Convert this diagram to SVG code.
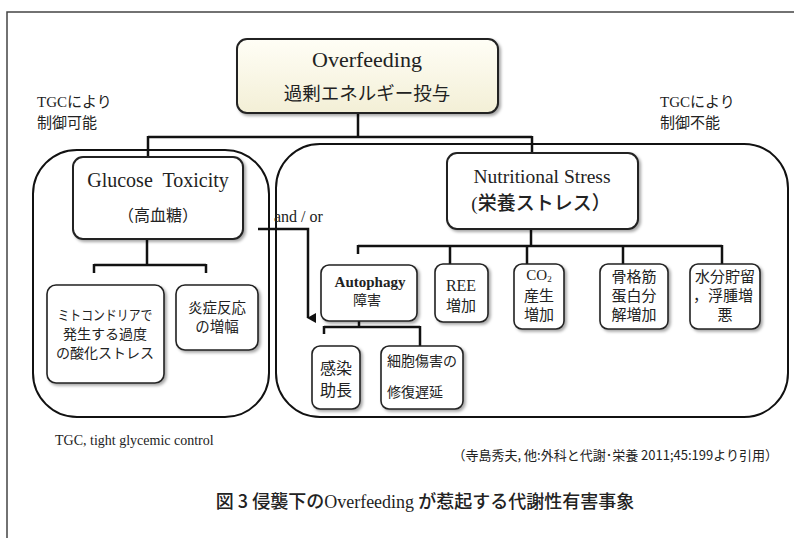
<svg xmlns="http://www.w3.org/2000/svg" width="794" height="538" viewBox="0 0 794 538">
<style>
.en{font-family:"Liberation Serif","Times New Roman","DejaVu Serif",serif;fill:#222}
.jp{font-family:"Noto Sans CJK JP","Liberation Sans",sans-serif;fill:#222}
.big{fill:none;stroke:#111;stroke-width:2}
.box{fill:#fff;stroke:#222;stroke-width:2}
.sbox{fill:#fff;stroke:#222;stroke-width:1.6}
.con{fill:none;stroke:#111;stroke-width:2.5}
</style>
<defs>
<filter id="sh" x="-10%" y="-10%" width="130%" height="130%">
<feDropShadow dx="2" dy="2" stdDeviation="1.5" flood-color="#000" flood-opacity="0.35"/>
</filter>
<linearGradient id="cream" x1="0" y1="0" x2="0" y2="1">
<stop offset="0" stop-color="#fffef6"/>
<stop offset="1" stop-color="#f3efd6"/>
</linearGradient>
<marker id="arr" markerWidth="10" markerHeight="10" refX="5" refY="8" orient="auto" markerUnits="userSpaceOnUse">
<path d="M0,0 L10,0 L5,9 Z" fill="#111"/>
</marker>
</defs>
<rect width="794" height="538" fill="#fff"/>
<path d="M7,538 V12 H794" fill="none" stroke="#444" stroke-width="1.5"/>

<g id="labels">
<text class="jp" x="37" y="107" font-size="15"><tspan class="en" font-size="15">TGC</tspan>により</text>
<text class="jp" x="37" y="128" font-size="15">制御可能</text>
<text class="jp" x="660" y="107" font-size="15"><tspan class="en" font-size="15">TGC</tspan>により</text>
<text class="jp" x="660" y="128" font-size="15">制御不能</text>
</g>

<g id="region-left"><rect class="big" x="33" y="150" width="236" height="267" rx="44"/></g>
<g id="region-right"><rect class="big" x="276" y="144" width="512" height="273" rx="44"/></g>

<g id="connectors">
<path class="con" d="M358,113 V137 M148,137 H532 M148,136 V157 M532,136 V153"/>
<path class="con" d="M147,239 V265 M94,265 H206 M94,264 V273 M206,264 V273"/>
<path class="con" d="M531,229 V246 M358,246 H722 M358,245 V254 M450,245 V264 M527,245 V264 M623,245 V264 M722,245 V264"/>
<path class="con" d="M359,321 V327 M324,327 H420 M324,326 V334 M420,326 V346"/>
<path class="con" d="M258,229 H308 V318" marker-end="url(#arr)" stroke-width="2"/>
<text class="en" x="274" y="222" font-size="16">and / or</text>
</g>

<g id="overfeeding">
<rect x="237" y="39" width="261" height="74" rx="10" fill="url(#cream)" stroke="#222" stroke-width="2" filter="url(#sh)"/>
<text class="en" x="367" y="67" font-size="22" text-anchor="middle">Overfeeding</text>
<text class="jp" x="367" y="100" font-size="18.5" text-anchor="middle">過剰エネルギー投与</text>
</g>

<g id="glucose">
<rect class="box" x="73" y="157" width="170" height="82" rx="10" filter="url(#sh)"/>
<text class="en" x="158" y="187" font-size="20" text-anchor="middle" xml:space="preserve">Glucose  Toxicity</text>
<text class="jp" x="158" y="221" font-size="16" text-anchor="middle">（高血糖）</text>
</g>

<g id="mito">
<rect class="sbox" x="47" y="285" width="117" height="98" rx="9" filter="url(#sh)"/>
<text class="jp" x="105" y="320" font-size="14" text-anchor="middle" textLength="95" lengthAdjust="spacingAndGlyphs">ミトコンドリアで</text>
<text class="jp" x="105" y="339" font-size="14" text-anchor="middle">発生する過度</text>
<text class="jp" x="105" y="358" font-size="14" text-anchor="middle">の酸化ストレス</text>
</g>

<g id="inflam">
<rect class="sbox" x="176" y="285" width="82" height="65" rx="9" filter="url(#sh)"/>
<text class="jp" x="217" y="313" font-size="14.5" text-anchor="middle">炎症反応</text>
<text class="jp" x="217" y="332" font-size="14.5" text-anchor="middle">の増幅</text>
</g>

<g id="nutritional">
<rect class="box" x="447" y="153" width="191" height="76" rx="10" filter="url(#sh)"/>
<text class="en" x="542" y="183" font-size="19.5" text-anchor="middle">Nutritional Stress</text>
<text class="jp" x="541" y="210" font-size="19" font-weight="500" text-anchor="middle"><tspan class="en">(</tspan>栄養ストレス）</text>
</g>

<g id="autophagy">
<rect class="sbox" x="321" y="265" width="96" height="56" rx="8" filter="url(#sh)"/>
<text class="en" x="370" y="287" font-size="15" font-weight="bold" text-anchor="middle" fill="#333">Autophagy</text>
<text class="jp" x="367" y="305" font-size="14" text-anchor="middle">障害</text>
</g>

<g id="ree">
<rect class="sbox" x="435" y="264" width="53" height="58" rx="8" filter="url(#sh)"/>
<text class="en" x="461" y="291" font-size="16" text-anchor="middle">REE</text>
<text class="jp" x="461" y="311" font-size="15" text-anchor="middle">増加</text>
</g>

<g id="co2">
<rect class="sbox" x="514" y="264" width="50" height="65" rx="8" filter="url(#sh)"/>
<text class="en" x="539" y="280" font-size="15" text-anchor="middle">CO<tspan font-size="9" dy="2">2</tspan></text>
<text class="jp" x="539" y="301" font-size="15" text-anchor="middle">産生</text>
<text class="jp" x="539" y="320" font-size="15" text-anchor="middle">増加</text>
</g>

<g id="muscle">
<rect class="sbox" x="600" y="264" width="68" height="65" rx="8" filter="url(#sh)"/>
<text class="jp" x="634" y="282" font-size="15" text-anchor="middle">骨格筋</text>
<text class="jp" x="634" y="301" font-size="15" text-anchor="middle">蛋白分</text>
<text class="jp" x="634" y="320" font-size="15" text-anchor="middle">解増加</text>
</g>

<g id="water">
<rect class="sbox" x="690" y="264" width="70" height="65" rx="8" filter="url(#sh)"/>
<text class="jp" x="725" y="282" font-size="15" text-anchor="middle">水分貯留</text>
<text class="jp" x="723" y="301" font-size="15" text-anchor="middle">，浮腫増</text>
<text class="jp" x="725" y="320" font-size="15" text-anchor="middle">悪</text>
</g>

<g id="infection">
<rect class="sbox" x="312" y="346" width="48" height="63" rx="8" filter="url(#sh)"/>
<text class="jp" x="336" y="374" font-size="16" text-anchor="middle">感染</text>
<text class="jp" x="336" y="396" font-size="16" text-anchor="middle">助長</text>
</g>

<g id="cellrepair">
<rect class="sbox" x="381" y="346" width="82" height="63" rx="8" filter="url(#sh)"/>
<text class="jp" x="387" y="366" font-size="14">細胞傷害の</text>
<text class="jp" x="387" y="397" font-size="14">修復遅延</text>
</g>

<g id="footer">
<text class="en" x="55" y="445" font-size="14">TGC, tight glycemic control</text>
<text class="jp" x="778" y="460" font-size="13" text-anchor="end" fill="#333">（寺島秀夫, 他:外科と代謝･栄養 2011;45:199より引用）</text>
<text class="jp" x="425" y="508" font-size="18" font-weight="500" text-anchor="middle">図 3  侵襲下の<tspan class="en">Overfeeding</tspan> が惹起する代謝性有害事象</text>
</g>
</svg>
